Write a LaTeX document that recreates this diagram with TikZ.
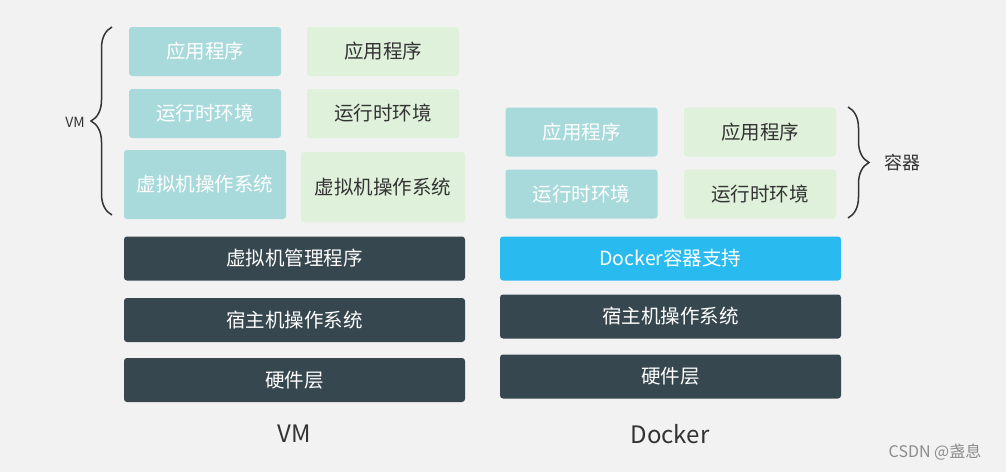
\documentclass[tikz,border=0pt]{standalone}
\usepackage{fontspec}
\setmainfont{Noto Sans CJK SC}
\usetikzlibrary{decorations.pathreplacing, positioning}
\definecolor{bgcol}{HTML}{F2F2F2}
\definecolor{tealcol}{HTML}{A8DADC}
\definecolor{greencol}{HTML}{DFF1DA}
\definecolor{darkcol}{HTML}{37474F}
\definecolor{dockcol}{HTML}{29BBEF}
\definecolor{txtcol}{HTML}{333333}
\tikzset{
  box/.style={rounded corners=3pt, inner sep=0pt, font=\fontsize{19.5}{22}\selectfont},
  tealbox/.style={box, fill=tealcol, text=white, minimum width=152pt, minimum height=49pt},
  greenbox/.style={box, fill=greencol, text=txtcol, minimum width=152pt, minimum height=49pt},
  bigteal/.style={tealbox, minimum width=162pt, minimum height=69pt},
  biggreen/.style={greenbox, minimum width=164pt, minimum height=70pt},
  layer/.style={box, fill=darkcol, text=white, minimum width=341pt, minimum height=44pt},
  dockbar/.style={layer, fill=dockcol},
  bracket/.style={draw=txtcol, line width=1.5pt, decorate, decoration={brace, amplitude=21pt}},
  caption/.style={text=txtcol, font=\fontsize{24}{26}\selectfont}
}
\begin{document}
\begin{tikzpicture}[x=1pt, y=-1pt]
  \fill[bgcol] (0,0) rectangle (1006,472);
  \useasboundingbox (0,0) rectangle (1006,472);

  % VM side
  \node[tealbox] (vmappa) at (205,51.5) {应用程序};
  \node[greenbox] (vmappb) at (383,51.5) {应用程序};
  \node[tealbox] (vmrta) at (205,113.5) {运行时环境};
  \node[greenbox] (vmrtb) at (383,113.5) {运行时环境};
  \node[bigteal] (vmosa) at (205,184.5) {虚拟机操作系统};
  \node[biggreen] (vmosb) at (383,187) {虚拟机操作系统};
  \node[layer] (hyper) at (294.5,258.5) {虚拟机管理程序};
  \node[layer] (vmhost) at (294.5,320) {宿主机操作系统};
  \node[layer] (vmhw) at (294.5,380) {硬件层};
  \node[caption] (vmcap) at (294,434) {VM};

  \coordinate (vmtop) at (112,27);
  \coordinate (vmbot) at (112,215);
  \draw[bracket] (vmbot) -- (vmtop);
  \node[text=txtcol, font=\fontsize{14}{16}\selectfont] (vmlbl) at (75,122) {VM};

  % Docker side
  \node[tealbox] (dkappa) at (581.5,132) {应用程序};
  \node[greenbox] (dkappb) at (760,132) {应用程序};
  \node[tealbox] (dkrta) at (581.5,194) {运行时环境};
  \node[greenbox] (dkrtb) at (760,194) {运行时环境};
  \node[dockbar] (engine) at (670.5,258.5) {Docker容器支持};
  \node[layer] (dkhost) at (670.5,316.5) {宿主机操作系统};
  \node[layer] (dkhw) at (670.5,376.5) {硬件层};
  \node[caption] (dkcap) at (670,434) {Docker};

  \coordinate (dktop) at (848,107);
  \coordinate (dkbot) at (848,218);
  \draw[bracket] (dktop) -- (dkbot);
  \node[text=txtcol, font=\fontsize{18}{20}\selectfont] (dklbl) at (902,163) {容器};

  \node[text=black!45, font=\fontsize{16}{18}\selectfont] (mark) at (935,452) {CSDN @盏息};
\end{tikzpicture}
\end{document}
